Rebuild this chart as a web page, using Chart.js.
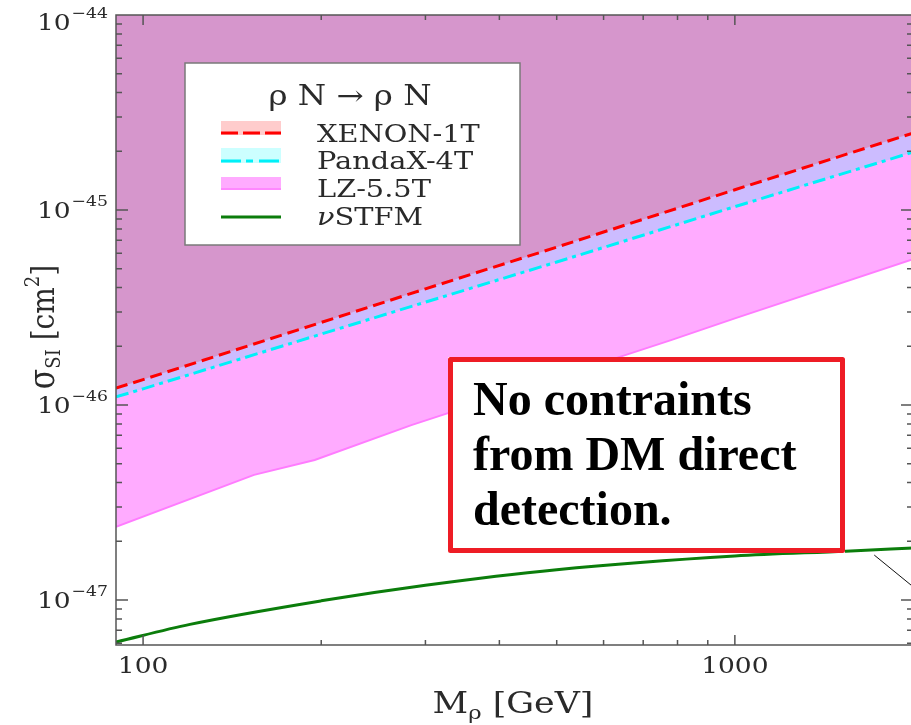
<!DOCTYPE html>
<html lang="en">
<head>
<meta charset="UTF-8">
<title>rho N direct detection limits</title>
<script src="https://cdn.jsdelivr.net/npm/chart.js"></script>
<style>
  html, body { margin: 0; padding: 0; background: #fff; overflow: hidden; }
  #wrap { width: 911px; height: 725px; overflow: hidden; }
</style>
</head>
<body>
<div id="wrap"><canvas id="sigmaChart" width="914" height="725"></canvas></div>
<script>
// M_rho in GeV, sigma_SI in cm^2
const xenonMass  = [90, 100, 200, 300, 500, 1000, 2000];
const xenonSigma = [1.22e-46, 1.35e-46, 2.65e-46, 3.94e-46, 6.45e-46, 1.27e-45, 2.48e-45];

const pandaMass  = [90, 100, 200, 300, 500, 1000, 2000];
const pandaSigma = [1.10e-46, 1.21e-46, 2.31e-46, 3.37e-46, 5.41e-46, 1.04e-45, 1.98e-45];

const lzMass  = [90, 154, 195, 284, 780, 1000, 2000];
const lzSigma = [2.37e-47, 4.38e-47, 5.22e-47, 7.88e-47, 2.15e-46, 2.78e-46, 5.6e-46];

const nuMass  = [90, 120, 200, 300, 500, 1000, 1540, 2000];
const nuSigma = [6.09e-48, 7.5e-48, 9.9e-48, 1.19e-47, 1.43e-47, 1.68e-47, 1.78e-47, 1.85e-47];

// stray pointer line near the right edge
const pointerMass  = [1720, 2000];
const pointerSigma = [1.70e-47, 1.17e-47];

const xTickValues = [100, 1000];
const xTickLabels = ['100', '1000'];
const yTickExponents = [-44, -45, -46, -47];
const yTickLabels = ['\u221244', '\u221245', '\u221246', '\u221247'];

const legendLabels = ['XENON-1T', 'PandaX-4T', 'LZ-5.5T', 'STFM'];
const noteLines = ['No contraints', 'from DM direct', 'detection.'];

const SERIF = '"DejaVu Serif", serif';

function pts(xs, ys) {
  return xs.map((v, i) => ({ x: v, y: ys[i] }));
}

// text stretched horizontally, returns drawn width
function wideText(ctx, str, x, y, size, align, sx, style) {
  ctx.font = (style || '') + ' ' + size + 'px ' + SERIF;
  const w = ctx.measureText(str).width * sx;
  let x0 = x;
  if (align === 'center') x0 = x - w / 2;
  else if (align === 'right') x0 = x - w;
  ctx.save();
  ctx.translate(x0, y);
  ctx.scale(sx, 1);
  ctx.textAlign = 'left';
  ctx.textBaseline = 'alphabetic';
  ctx.fillText(str, 0, 0);
  ctx.restore();
  return w;
}

function textWidth(ctx, str, size, sx, style) {
  ctx.font = (style || '') + ' ' + size + 'px ' + SERIF;
  return ctx.measureText(str).width * sx;
}

const axesFrame = {
  id: 'axesFrame',
  afterDatasetsDraw(chart) {
    const { ctx, chartArea: a, scales: { x, y } } = chart;
    ctx.save();

    // inward ticks on all four sides
    ctx.strokeStyle = '#555';
    ctx.lineWidth = 1.5;
    ctx.beginPath();
    for (let d = 10; d <= 1000; d *= 10) {
      for (let m = 1; m < 10; m++) {
        const v = m * d;
        if (v <= x.min || v >= x.max) continue;
        const px = x.getPixelForValue(v);
        const len = m === 1 ? 10 : 5;
        ctx.moveTo(px, a.bottom); ctx.lineTo(px, a.bottom - len);
        ctx.moveTo(px, a.top); ctx.lineTo(px, a.top + len);
      }
    }
    for (let e = -48; e <= -45; e++) {
      for (let m = 1; m < 10; m++) {
        const v = m * Math.pow(10, e);
        if (v <= y.min * 1.0001 || v >= y.max * 0.9999) continue;
        const py = y.getPixelForValue(v);
        const len = m === 1 ? 12 : 6;
        ctx.moveTo(a.left, py); ctx.lineTo(a.left + len, py);
        ctx.moveTo(a.right, py); ctx.lineTo(a.right - len, py);
      }
    }
    ctx.stroke();
    ctx.strokeRect(a.left, a.top, a.right - a.left, a.bottom - a.top);

    ctx.fillStyle = '#2a2a2a';

    // x tick labels
    xTickValues.forEach((v, i) => {
      wideText(ctx, xTickLabels[i], x.getPixelForValue(v), a.bottom + 28, 23, 'center', 1.15);
    });

    // y tick labels 10^n
    yTickExponents.forEach((e, i) => {
      const py = y.getPixelForValue(Math.pow(10, e));
      const base = Math.max(py + 8, 30);
      const right = a.left - 8;
      const supW = textWidth(ctx, yTickLabels[i], 15, 1.15);
      wideText(ctx, yTickLabels[i], right, base - 12, 15, 'right', 1.15);
      wideText(ctx, '10', right - supW - 1, base, 23, 'right', 1.15);
    });

    // x title: M_rho [GeV]
    {
      const sx = 1.2;
      const w1 = textWidth(ctx, 'M', 29, sx);
      const w2 = textWidth(ctx, '\u03c1', 19, sx);
      const w3 = textWidth(ctx, ' [GeV]', 29, sx);
      let cx = 513 - (w1 + w2 + w3) / 2;
      const by = 713;
      cx += wideText(ctx, 'M', cx, by, 29, 'left', sx);
      cx += wideText(ctx, '\u03c1', cx, by + 6, 19, 'left', sx);
      wideText(ctx, ' [GeV]', cx, by, 29, 'left', sx);
    }

    // y title: sigma_SI [cm^2], rotated
    {
      const parts = [['\u03c3', 30, 0], ['SI', 18, 5], [' [cm', 28, 0], ['2', 18, -13], [']', 28, 0]];
      let total = 0;
      parts.forEach(p => { total += textWidth(ctx, p[0], p[1], 1); });
      ctx.save();
      ctx.translate(54, 327 + total / 2);
      ctx.rotate(-Math.PI / 2);
      ctx.scale(1, 1.15);
      let lx = 0;
      parts.forEach(p => {
        ctx.font = p[1] + 'px ' + SERIF;
        ctx.textAlign = 'left';
        ctx.fillText(p[0], lx, p[2]);
        lx += ctx.measureText(p[0]).width;
      });
      ctx.restore();
    }

    // legend box
    ctx.fillStyle = '#fff';
    ctx.fillRect(185, 63, 335, 182);
    ctx.strokeStyle = '#7a7a7a';
    ctx.lineWidth = 1.5;
    ctx.strokeRect(185, 63, 335, 182);

    ctx.fillStyle = '#2a2a2a';
    wideText(ctx, '\u03c1 N \u2192 \u03c1 N', 350, 105, 27, 'center', 1.2);

    const sx0 = 221, sw = 60;
    // XENON-1T
    ctx.fillStyle = 'rgba(255,0,0,0.2)';
    ctx.fillRect(sx0, 121, sw, 14);
    ctx.strokeStyle = '#ff0000';
    ctx.lineWidth = 3;
    ctx.setLineDash([17, 5]);
    ctx.beginPath(); ctx.moveTo(sx0, 133); ctx.lineTo(sx0 + sw, 133); ctx.stroke();
    // PandaX-4T
    ctx.fillStyle = 'rgba(0,255,255,0.2)';
    ctx.fillRect(sx0, 148, sw, 15);
    ctx.strokeStyle = '#00f0f8';
    ctx.setLineDash([20, 5, 7, 6]);
    ctx.beginPath(); ctx.moveTo(sx0, 161); ctx.lineTo(sx0 + sw, 161); ctx.stroke();
    ctx.setLineDash([]);
    // LZ-5.5T
    ctx.fillStyle = 'rgba(255,0,255,0.33)';
    ctx.fillRect(sx0, 177, sw, 13);
    ctx.strokeStyle = '#ff7cff';
    ctx.lineWidth = 1.5;
    ctx.beginPath(); ctx.moveTo(sx0, 189); ctx.lineTo(sx0 + sw, 189); ctx.stroke();
    // nu STFM
    ctx.strokeStyle = '#0b7d0b';
    ctx.lineWidth = 3;
    ctx.beginPath(); ctx.moveTo(sx0, 217); ctx.lineTo(sx0 + sw, 217); ctx.stroke();

    ctx.fillStyle = '#2a2a2a';
    wideText(ctx, legendLabels[0], 317, 142, 24, 'left', 1.2);
    wideText(ctx, legendLabels[1], 317, 169, 24, 'left', 1.2);
    wideText(ctx, legendLabels[2], 317, 197, 24, 'left', 1.2);
    const nuW = wideText(ctx, '\u03bd', 317, 225, 24, 'left', 1.2, 'italic');
    wideText(ctx, legendLabels[3], 317 + nuW, 225, 24, 'left', 1.2);

    // note box
    ctx.fillStyle = '#fff';
    ctx.fillRect(448, 357, 397, 196);
    ctx.strokeStyle = '#ee1c25';
    ctx.lineWidth = 5;
    ctx.lineJoin = 'round';
    ctx.strokeRect(450.5, 359.5, 392, 191);
    ctx.fillStyle = '#000';
    ctx.font = 'bold 48px "Liberation Serif", serif';
    ctx.textAlign = 'left';
    ctx.textBaseline = 'alphabetic';
    noteLines.forEach((t, i) => ctx.fillText(t, 473, 415 + i * 55));

    ctx.restore();
  }
};

new Chart(document.getElementById('sigmaChart'), {
  type: 'line',
  data: {
    datasets: [
      {
        label: 'XENON-1T', data: pts(xenonMass, xenonSigma),
        borderColor: '#ff0000', borderWidth: 3, borderDash: [12, 6],
        backgroundColor: 'rgba(255,0,0,0.2)', fill: 'end'
      },
      {
        label: 'PandaX-4T', data: pts(pandaMass, pandaSigma),
        borderColor: '#00f0f8', borderWidth: 3, borderDash: [13, 5, 4, 5],
        backgroundColor: 'rgba(0,255,255,0.2)', fill: 'end'
      },
      {
        label: 'LZ-5.5T', data: pts(lzMass, lzSigma),
        borderColor: '#ff7cff', borderWidth: 2,
        backgroundColor: 'rgba(255,0,255,0.33)', fill: 'end'
      },
      {
        label: 'nuSTFM', data: pts(nuMass, nuSigma),
        borderColor: '#0b7d0b', borderWidth: 3, fill: false,
        cubicInterpolationMode: 'monotone'
      },
      {
        label: 'pointer', data: pts(pointerMass, pointerSigma),
        borderColor: '#111', borderWidth: 1, fill: false
      }
    ]
  },
  options: {
    animation: false,
    responsive: false,
    devicePixelRatio: 1,
    layout: { padding: { left: 116, top: 15, right: 1, bottom: 80 } },
    elements: { point: { radius: 0 }, line: { tension: 0 } },
    scales: {
      x: { type: 'logarithmic', min: 90, max: 2000, display: false },
      y: { type: 'logarithmic', min: 5.877e-48, max: 1e-44, display: false }
    },
    plugins: {
      legend: { display: false },
      tooltip: { enabled: false },
      filler: { drawTime: 'beforeDatasetsDraw' }
    }
  },
  plugins: [axesFrame]
});
</script>
</body>
</html>
